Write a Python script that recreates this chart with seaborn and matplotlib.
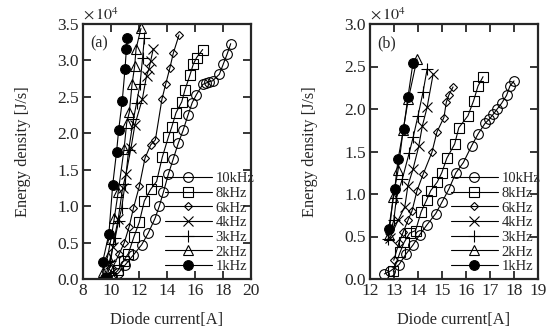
import numpy as np
import pandas as pd
import matplotlib
matplotlib.use("Agg")
import matplotlib.pyplot as plt
import seaborn as sns

# ---- data (energy density in units of 1e4 J/s) ----
freqs = ["10kHz", "8kHz", "6kHz", "4kHz", "3kHz", "2kHz", "1kHz"]

# panel (a)
a_10k_x = [9.69, 10.1, 10.52, 11.0, 11.6, 12.19, 12.66, 13.14, 13.45, 13.74, 14.1, 14.45, 14.8,
           15.15, 15.5, 15.8, 16.1, 16.55, 16.8, 17.02, 17.26, 17.74, 18.02, 18.3, 18.55]
a_10k_y = [0.01, 0.04, 0.08, 0.19, 0.33, 0.47, 0.63, 0.83, 1.0, 1.19, 1.44, 1.65, 1.86,
           2.04, 2.25, 2.42, 2.53, 2.67, 2.69, 2.71, 2.72, 2.81, 2.95, 3.09, 3.23]
a_8k_x = [10.0, 10.5, 10.9, 11.24, 11.64, 12.02, 12.38, 12.83, 13.26, 13.66, 14.1, 14.33,
          14.64, 15.05, 15.29, 15.64, 15.88, 16.12, 16.55]
a_8k_y = [0.02, 0.12, 0.25, 0.35, 0.58, 0.78, 1.07, 1.23, 1.34, 1.67, 1.95, 2.08,
          2.28, 2.43, 2.60, 2.80, 2.95, 3.04, 3.15]
a_6k_x = [9.8, 10.1, 10.6, 10.95, 11.3, 11.6, 12.02, 12.43, 12.83, 13.17, 13.64, 13.9,
          14.21, 14.45, 14.86]
a_6k_y = [0.02, 0.15, 0.35, 0.5, 0.72, 0.97, 1.27, 1.66, 1.84, 1.91, 2.47, 2.67,
          2.9, 3.1, 3.35]
a_4k_x = [9.7, 9.95, 10.12, 10.52, 10.83, 11.07, 11.43, 11.71, 12.24, 12.54, 12.7, 12.83, 13.02]
a_4k_y = [0.03, 0.2, 0.44, 0.83, 1.25, 1.44, 1.8, 2.12, 2.47, 2.79, 2.88, 2.99, 3.16]
a_3k_x = [9.6, 9.9, 10.29, 10.55, 10.76, 11.0, 11.26, 11.6, 11.83, 12.07, 12.26, 12.38]
a_3k_y = [0.02, 0.25, 0.56, 0.8, 0.97, 1.3, 1.77, 2.19, 2.42, 2.67, 3.04, 3.31]
a_2k_x = [9.5, 9.4, 9.75, 10.0, 10.24, 10.52, 10.93, 11.12, 11.31, 11.5, 11.69, 11.79, 12.14]
a_2k_y = [0.0, 0.1, 0.3, 0.55, 0.84, 1.20, 1.78, 2.14, 2.29, 2.67, 2.92, 3.16, 3.44]
a_1k_x = [9.55, 9.4, 9.85, 10.12, 10.4, 10.55, 10.8, 11.0, 11.1, 11.15]
a_1k_y = [0.02, 0.23, 0.62, 1.29, 1.75, 2.05, 2.44, 2.88, 3.16, 3.31]

# panel (b)
b_10k_x = [12.6, 12.85, 13.21, 13.49, 13.79, 14.07, 14.38, 14.74, 15.01, 15.29, 15.58, 15.89,
           16.24, 16.51, 16.79, 16.97, 17.14, 17.3, 17.49, 17.69, 17.83, 18.0]
b_10k_y = [0.06, 0.094, 0.17, 0.29, 0.40, 0.52, 0.64, 0.77, 0.91, 1.06, 1.25, 1.37,
           1.57, 1.71, 1.83, 1.88, 1.94, 2.0, 2.07, 2.16, 2.27, 2.33]
b_8k_x = [12.97, 13.26, 13.42, 13.65, 13.9, 14.13, 14.36, 14.53, 14.8, 14.99, 15.2, 15.53,
          15.7, 16.08, 16.32, 16.5, 16.71]
b_8k_y = [0.09, 0.32, 0.43, 0.54, 0.57, 0.79, 0.93, 1.04, 1.14, 1.25, 1.42, 1.59,
          1.78, 1.92, 2.10, 2.27, 2.38]
b_6k_x = [12.99, 13.2, 13.38, 13.58, 13.75, 13.96, 14.21, 14.58, 14.79, 15.08, 15.18, 15.28, 15.46]
b_6k_y = [0.22, 0.42, 0.55, 0.69, 0.80, 1.04, 1.23, 1.49, 1.73, 1.9, 2.08, 2.16, 2.26]
b_4k_x = [12.82, 13.17, 13.45, 13.58, 13.79, 14.03, 14.18, 14.38, 14.63]
b_4k_y = [0.48, 0.69, 0.85, 1.10, 1.29, 1.56, 1.80, 2.02, 2.41]
b_3k_x = [12.75, 12.99, 13.1, 13.35, 13.63, 13.8, 14.0, 14.21, 14.38]
b_3k_y = [0.47, 0.69, 0.95, 1.18, 1.48, 1.67, 1.92, 2.2, 2.47]
b_2k_x = [12.79, 12.96, 13.17, 13.38, 13.6, 13.96]
b_2k_y = [0.52, 0.96, 1.28, 1.75, 2.12, 2.59]
b_1k_x = [12.78, 13.03, 13.17, 13.4, 13.58, 13.79]
b_1k_y = [0.59, 1.055, 1.41, 1.77, 2.14, 2.54]

panel_a = {"10kHz": (a_10k_x, a_10k_y), "8kHz": (a_8k_x, a_8k_y), "6kHz": (a_6k_x, a_6k_y),
           "4kHz": (a_4k_x, a_4k_y), "3kHz": (a_3k_x, a_3k_y), "2kHz": (a_2k_x, a_2k_y),
           "1kHz": (a_1k_x, a_1k_y)}
panel_b = {"10kHz": (b_10k_x, b_10k_y), "8kHz": (b_8k_x, b_8k_y), "6kHz": (b_6k_x, b_6k_y),
           "4kHz": (b_4k_x, b_4k_y), "3kHz": (b_3k_x, b_3k_y), "2kHz": (b_2k_x, b_2k_y),
           "1kHz": (b_1k_x, b_1k_y)}

# marker styles per frequency
styles = {
    "10kHz": dict(marker="o", markerfacecolor="none", markersize=7),
    "8kHz": dict(marker="s", markerfacecolor="none", markersize=7),
    "6kHz": dict(marker="D", markerfacecolor="none", markersize=4.5),
    "4kHz": dict(marker="x", markersize=7),
    "3kHz": dict(marker="+", markersize=8),
    "2kHz": dict(marker="^", markerfacecolor="none", markersize=7),
    "1kHz": dict(marker="o", markerfacecolor="black", markersize=7),
}

sns.set_style("ticks")
plt.rcParams["font.family"] = ["Liberation Serif", "DejaVu Serif"]
plt.rcParams["mathtext.fontset"] = "stix"
plt.rcParams["axes.linewidth"] = 1.6

fig = plt.figure(figsize=(5.46, 3.3), dpi=100)
W, H = 546, 330


def make_axes(left, right, top, bottom):
    return fig.add_axes([left / W, 1 - bottom / H, (right - left) / W, (bottom - top) / H])


def draw_panel(ax, data, xlim, xticks, ylim, label, legend_anchor):
    for f in freqs:
        x, y = data[f]
        df = pd.DataFrame({"current": x, "energy": y})
        sns.lineplot(data=df, x="current", y="energy", sort=False, ax=ax, color="black",
                     linewidth=0.8, markeredgecolor="black", markeredgewidth=0.8,
                     label=f, **styles[f])
    ax.set_xlim(*xlim)
    ax.set_ylim(*ylim)
    ax.set_xticks(xticks)
    yt = np.arange(0, ylim[1] + 0.01, 0.5)
    ax.set_yticks(yt)
    ax.set_yticklabels([f"{v:.1f}" for v in yt])
    ax.tick_params(direction="in", length=6, width=1.3, top=True, right=True,
                   labelsize=12.5, pad=3)
    ax.set_xlabel("Diode current[A]", fontsize=11.8, labelpad=9)
    ax.set_ylabel("Energy density [J/s]", fontsize=11.8, labelpad=19)
    ax.text(0.045, 0.955, label, transform=ax.transAxes, fontsize=11.5, va="top", ha="left")
    ax.text(0.0, 1.0, r"$\times\,10^4$", transform=ax.transAxes, fontsize=11.5,
            va="bottom", ha="left")
    ax.legend(loc="upper left", bbox_to_anchor=legend_anchor, frameon=False, fontsize=10.5,
              handlelength=3.2, handletextpad=0.25, labelspacing=0.1, borderpad=0,
              borderaxespad=0)


ax_a = make_axes(83, 251, 24, 279)
draw_panel(ax_a, panel_a, (8, 20), [8, 10, 12, 14, 16, 18, 20], (0, 3.5), "(a)",
           ((165 - 83) / 168, (279 - 172) / 255))

ax_b = make_axes(370, 538, 24, 279)
draw_panel(ax_b, panel_b, (12, 19), list(range(12, 20)), (0, 3.0), "(b)",
           ((451 - 370) / 168, (279 - 172) / 255))

fig.savefig("out.png", dpi=100)
